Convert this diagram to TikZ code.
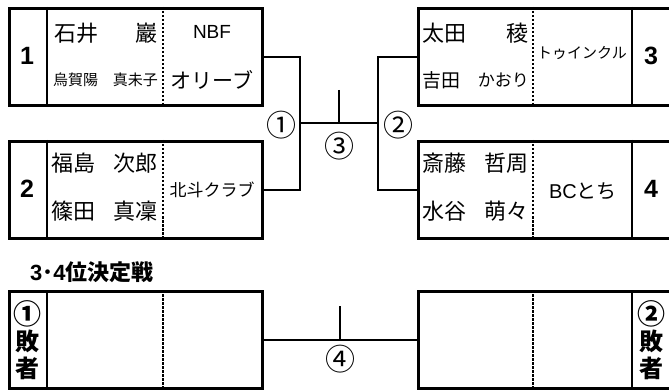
\documentclass[tikz,border=0pt]{standalone}
\usepackage{fontspec}
\setmainfont{Liberation Sans}
\newfontfamily\jp{Noto Sans CJK JP}
\begin{document}
\begin{tikzpicture}[x=1pt,y=-1pt,
  box/.style={draw, line width=2.6pt, minimum width=253pt, minimum height=97pt, inner sep=0pt, anchor=north west},
  sep/.style={line width=2.6pt},
  dsep/.style={line width=1.3pt, dash pattern=on 2.5pt off 1.5pt},
  link/.style={line width=1.8pt},
  nm/.style={inner sep=0pt, font=\jp\fontsize{22}{22}\selectfont},
  sm/.style={inner sep=0pt, font=\jp\fontsize{15}{15}\selectfont},
  num/.style={inner sep=0pt, font=\bfseries\fontsize{25}{25}\selectfont},
  circ/.style={inner sep=0pt, font=\jp\fontsize{30}{30}\selectfont},
  lose/.style={inner sep=0pt, font=\jp\bfseries\fontsize{24}{24}\selectfont},
  losec/.style={inner sep=0pt, font=\jp\bfseries\fontsize{28}{28}\selectfont}
]
\useasboundingbox (0,0) rectangle (669,390);

% boxes
\node[box] (b1) at (8,7) {};
\node[box] (b2) at (8,140) {};
\node[box] (b3) at (417,7) {};
\node[box] (b4) at (417,140) {};
\node[box] (b5) at (8,290) {};
\node[box] (b6) at (417,290) {};

% dividers (left boxes)
\foreach \b in {b1,b2,b5}{
  \draw[sep] ([xshift=39pt]\b.north west) -- ([xshift=39pt]\b.south west);
  \draw[dsep] ([xshift=155pt]\b.north west) -- ([xshift=155pt]\b.south west);
}
% dividers (right boxes)
\foreach \b in {b3,b4,b6}{
  \draw[dsep] ([xshift=116pt]\b.north west) -- ([xshift=116pt]\b.south west);
  \draw[sep] ([xshift=215pt]\b.north west) -- ([xshift=215pt]\b.south west);
}

% box 1
\node[num] (n1) at (27,56) {1};
\node[nm, anchor=west] (p1a) at (54,33) {石井};
\node[nm, anchor=east] (p1b) at (158,33) {巖};
\node[sm, anchor=west] (p1c) at (53,80) {烏賀陽};
\node[sm, anchor=east] (p1d) at (158,80) {真未子};
\node[inner sep=0pt, font=\fontsize{19}{19}\selectfont] (t1a) at (212,32) {NBF};
\node[inner sep=0pt, font=\jp\fontsize{21}{21}\selectfont] (t1b) at (212,80) {オリーブ};

% box 2
\node[num] (n2) at (27,189) {2};
\node[nm, anchor=west] (p2a) at (51,163) {福島};
\node[nm, anchor=east] (p2b) at (158,163) {次郎};
\node[nm, anchor=west] (p2c) at (51,211) {篠田};
\node[nm, anchor=east] (p2d) at (158,211) {真凜};
\node[inner sep=0pt, font=\jp\fontsize{17}{17}\selectfont] (t2) at (212,190) {北斗クラブ};

% box 3
\node[num] (n3) at (651,56) {3};
\node[nm, anchor=west] (p3a) at (422,33) {太田};
\node[nm, anchor=east] (p3b) at (529,33) {稜};
\node[inner sep=0pt, font=\jp\fontsize{19}{19}\selectfont, anchor=west] (p3c) at (422,80) {吉田};
\node[inner sep=0pt, font=\jp\fontsize{17}{17}\selectfont, anchor=east] (p3d) at (529,80) {かおり};
\node[inner sep=0pt, font=\jp\fontsize{15}{15}\selectfont] (t3) at (582,53) {トゥインクル};

% box 4
\node[num] (n4) at (651,189) {4};
\node[nm, anchor=west] (p4a) at (422,163) {斎藤};
\node[nm, anchor=east] (p4b) at (529,163) {哲周};
\node[nm, anchor=west] (p4c) at (422,211) {水谷};
\node[nm, anchor=east] (p4d) at (529,211) {萌々};
\node[inner sep=0pt, font=\fontsize{20}{20}\selectfont] (t4) at (583,191) {BC{\jp とち}};

% bracket connectors
\coordinate (j1) at (300,123);
\coordinate (j2) at (378,123);
\coordinate (s3) at (339,90);
\draw[link] (b1.east) -| (j1) |- (b2.east);
\draw[link] (b3.west) -| (j2) |- (b4.west);
\draw[link] (j1) -- (j2);
\draw[link] (s3) -- (s3 |- j1);

\node[circ] (c1) at (281,125) {①};
\node[circ] (c2) at (398,125) {②};
\node[circ] (c3) at (339,146) {③};

% 3-4 place
\node[inner sep=0pt, anchor=west, font=\jp\bfseries\fontsize{22}{22}\selectfont] (title) at (30,272) {{\rmfamily 3}･{\rmfamily 4}位決定戦};
\node[losec] (l1a) at (27,314) {①};
\node[lose] (l1b) at (27,341) {敗};
\node[lose] (l1c) at (27,368) {者};
\node[losec] (l2a) at (651,314) {②};
\node[lose] (l2b) at (651,341) {敗};
\node[lose] (l2c) at (651,368) {者};

\coordinate (s4) at (340,306);
\draw[link] (b5.east) -- (b6.west);
\draw[link] (s4) -- (s4 |- b5.east);
\node[circ] (c4) at (340,359) {④};
\end{tikzpicture}
\end{document}
